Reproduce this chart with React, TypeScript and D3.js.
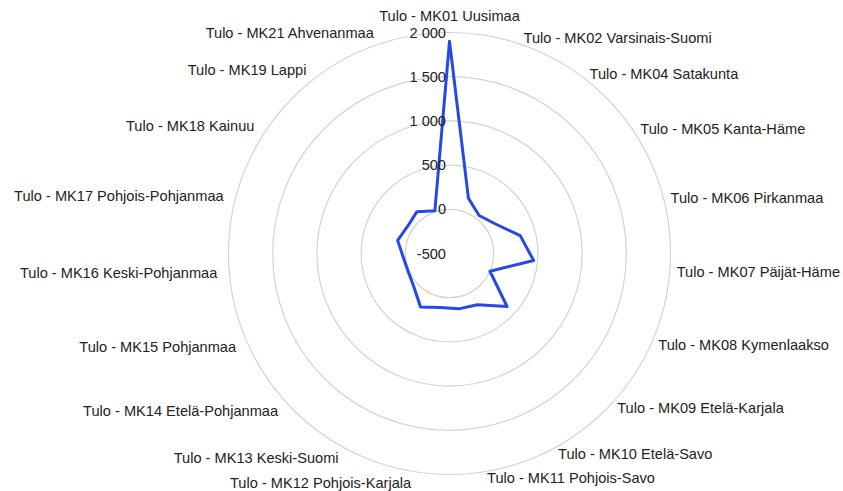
import React from "react";
import * as d3 from "d3";

const categories = [
  "Tulo - MK01 Uusimaa",
  "Tulo - MK02 Varsinais-Suomi",
  "Tulo - MK04 Satakunta",
  "Tulo - MK05 Kanta-Häme",
  "Tulo - MK06 Pirkanmaa",
  "Tulo - MK07 Päijät-Häme",
  "Tulo - MK08 Kymenlaakso",
  "Tulo - MK09 Etelä-Karjala",
  "Tulo - MK10 Etelä-Savo",
  "Tulo - MK11 Pohjois-Savo",
  "Tulo - MK12 Pohjois-Karjala",
  "Tulo - MK13 Keski-Suomi",
  "Tulo - MK14 Etelä-Pohjanmaa",
  "Tulo - MK15 Pohjanmaa",
  "Tulo - MK16 Keski-Pohjanmaa",
  "Tulo - MK17 Pohjois-Pohjanmaa",
  "Tulo - MK18 Kainuu",
  "Tulo - MK19 Lappi",
  "Tulo - MK21 Ahvenanmaa",
];

const values = [1900, 160, 45, 115, 325, 455, 0, 385, 160, 135, 120, 188, 50, 10, 25, 105, 65, 100, 10];

const tickValues = [-500, 0, 500, 1000, 1500, 2000];
const tickLabels = ["-500", "0", "500", "1 000", "1 500", "2 000"];

const W = 843;
const H = 491;
const cx = 449.5;
const cy = 253.5;
const outerR = 221;

export default function App() {
  const r = d3.scaleLinear().domain([-500, 2000]).range([0, outerR]);
  const angle = d3
    .scaleLinear()
    .domain([0, categories.length])
    .range([0, 2 * Math.PI]);

  const line = d3
    .lineRadial<number>()
    .angle((_, i) => angle(i))
    .radius((d) => r(d))
    .curve(d3.curveLinearClosed);

  const font = "'Liberation Sans', Arial, sans-serif";

  return (
    <svg
      width={W}
      height={H}
      style={{ position: "absolute", left: 0, top: 0, background: "#fff" }}
    >
      <g>
        {tickValues
          .filter((t) => t > -500)
          .map((t) => (
            <circle
              key={t}
              cx={cx}
              cy={cy}
              r={r(t)}
              fill="none"
              stroke="#d4d4d4"
              strokeWidth={1.2}
            />
          ))}
      </g>
      <path
        d={line(values) || ""}
        transform={`translate(${cx},${cy})`}
        fill="none"
        stroke="#2649e6"
        strokeWidth={3}
        strokeLinejoin="round"
      />
      <g fontFamily={font} fontSize={14.6} fill="#222">
        {tickValues.map((t, i) => (
          <text
            key={t}
            x={cx - 3.5}
            y={cy - r(t)}
            textAnchor="end"
            dominantBaseline="central"
          >
            {tickLabels[i]}
          </text>
        ))}
        {categories.map((c, i) => {
          const a = angle(i);
          const s = Math.sin(a);
          const co = Math.cos(a);
          let anchor: "start" | "end" | "middle" = "middle";
          if (s > 0.05) anchor = "start";
          else if (s < -0.05) anchor = "end";
          const R = anchor === "end" ? 233 : 228;
          const x = cx + R * s;
          const y = cy - R * co - (anchor === "middle" ? 9.5 : 0);
          return (
            <text
              key={c}
              x={x}
              y={y}
              textAnchor={anchor}
              dominantBaseline="central"
            >
              {c}
            </text>
          );
        })}
      </g>
    </svg>
  );
}
